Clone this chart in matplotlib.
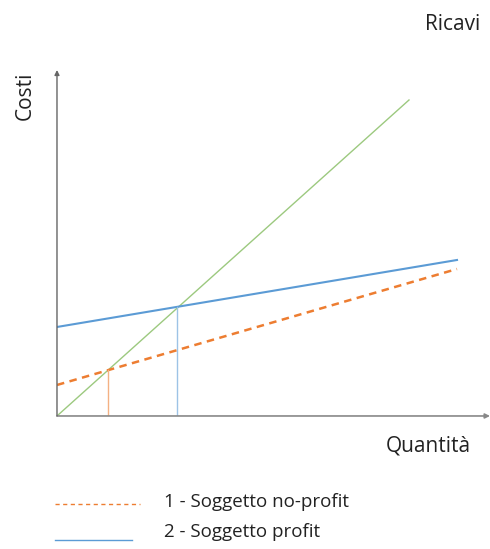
import matplotlib.pyplot as plt
from matplotlib.lines import Line2D

# data (arbitrary units)
ricavi_x = [0, 35.2]
ricavi_y = [0, 31.6]
nonprofit_x = [0, 40]
nonprofit_y = [3.1, 14.7]
profit_x = [0, 40]
profit_y = [8.9, 15.6]
# break-even quantities
be_nonprofit = 5.1
be_profit = 12.0

legend_labels = ["1 - Soggetto no-profit", "2 - Soggetto profit"]

orange = "#ed7d31"
blue = "#5b9bd5"
green = "#9cc97f"

plt.rcParams['font.family'] = ['Open Sans', 'DejaVu Sans']

fig = plt.figure(figsize=(4.9, 5.49), dpi=100)
ax = fig.add_axes([0.1163, 0.2423, 0.8837, 0.6302])
ax.set_xlim(0, 43.3)
ax.set_ylim(0, 34.6)
ax.axis("off")

# axes with arrows
ax.annotate("", xy=(43.3, 0), xytext=(0, 0),
            arrowprops=dict(arrowstyle="-|>", color="#888888", lw=1.2,
                            mutation_scale=7, shrinkA=0, shrinkB=0),
            annotation_clip=False)
ax.annotate("", xy=(0, 34.6), xytext=(0, 0),
            arrowprops=dict(arrowstyle="-|>", color="#666666", lw=1.0,
                            mutation_scale=7, shrinkA=0, shrinkB=0),
            annotation_clip=False)

ax.plot(ricavi_x, ricavi_y, color=green, lw=1.0)
ax.plot(profit_x, profit_y, color=blue, lw=1.5)
ax.plot(nonprofit_x, nonprofit_y, color=orange, lw=1.8, ls=(0, (3, 2.2)))

# vertical drops at the break-even points
y_np = nonprofit_y[0] + (nonprofit_y[1] - nonprofit_y[0]) / nonprofit_x[1] * be_nonprofit
y_p = profit_y[0] + (profit_y[1] - profit_y[0]) / profit_x[1] * be_profit
ax.plot([be_nonprofit, be_nonprofit], [0, y_np], color="#f4b183", lw=1.0)
ax.plot([be_profit, be_profit], [0, y_p], color="#9dc3e6", lw=1.0)

# labels
fig.text(480 / 490, 1 - 25 / 549, "Ricavi", ha="right", va="center",
         fontsize=15, color="#222222")
fig.text(25 / 490, 1 - 96 / 549, "Costi", ha="center", va="center",
         rotation=90, fontsize=15, color="#222222")
fig.text(471 / 490, 1 - 446 / 549, "Quantità", ha="right", va="center",
         fontsize=15, color="#222222")

# legend drawn by hand
fig.add_artist(Line2D([55 / 490, 140 / 490], [1 - 504 / 549, 1 - 504 / 549],
                      color=orange, lw=1.0, ls=(0, (3, 2.5)),
                      transform=fig.transFigure))
fig.add_artist(Line2D([55 / 490, 132 / 490], [1 - 540 / 549, 1 - 540 / 549],
                      color=blue, lw=1.0, transform=fig.transFigure))
fig.text(164 / 490, 1 - 502 / 549, legend_labels[0], ha="left", va="center",
         fontsize=13.5, color="#222222")
fig.text(164 / 490, 1 - 532 / 549, legend_labels[1], ha="left", va="center",
         fontsize=13.5, color="#222222")

fig.savefig("out.png", dpi=100)
